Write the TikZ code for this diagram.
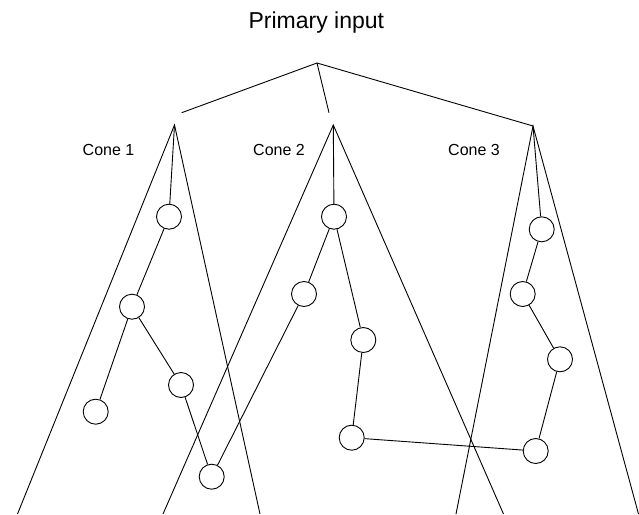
\documentclass[tikz,border=0pt]{standalone}
\usepackage{fontspec}
\setmainfont{Liberation Sans}
\begin{document}
\begin{tikzpicture}[x=1pt,y=-1pt,line width=0.9pt,
  gate/.style={circle,draw,minimum size=25pt,inner sep=0pt,fill=white},
  conelbl/.style={anchor=base,font=\fontsize{16}{19}\selectfont},
  titlelbl/.style={anchor=base,font=\fontsize{23}{27}\selectfont}]
\useasboundingbox (0,0) rectangle (639,514);
% title
\node[titlelbl] (title) at (316.3,28.3) {Primary input};
% top fan
\coordinate (top) at (317,63);
\coordinate (t1) at (181.7,112.7);
\coordinate (t2) at (329,112.7);
\coordinate (a1) at (174.5,125);
\coordinate (a2) at (333.3,125);
\coordinate (a3) at (533,126);
\draw (t1) -- (top) -- (a3);
\draw (top) -- (t2);
% cone bottoms
\coordinate (b1l) at (17.5,514);
\coordinate (b1r) at (260,514);
\coordinate (b2l) at (163,514);
\coordinate (b2r) at (503.5,514);
\coordinate (b3l) at (456,514);
\coordinate (b3r) at (638.5,514);
\draw (b1l) -- (a1) -- (b1r);
\draw (b2l) -- (a2) -- (b2r);
\draw (b3l) -- (a3) -- (b3r);
% labels
\node[conelbl] (l1) at (108.5,155) {Cone 1};
\node[conelbl] (l2) at (279,155) {Cone 2};
\node[conelbl] (l3) at (474,155) {Cone 3};
% gates
\node[gate] (c11) at (169,216.7) {};
\node[gate] (c12) at (132,306.7) {};
\node[gate] (c13) at (181,385) {};
\node[gate] (c14) at (95.7,411.7) {};
\node[gate] (c15) at (211.7,476.7) {};
\node[gate] (c21) at (334,216.7) {};
\node[gate] (c22) at (304,294) {};
\node[gate] (c23) at (363.3,340) {};
\node[gate] (c24) at (351.7,437.7) {};
\node[gate] (c31) at (541.7,229.3) {};
\node[gate] (c32) at (522.7,294) {};
\node[gate] (c33) at (560,359.3) {};
\node[gate] (c34) at (535.7,451) {};
% connections
\draw (a1) -- (c11);
\draw (c11) -- (c12);
\draw (c12) -- (c13);
\draw (c12) -- (c14);
\draw (c13) -- (c15);
\draw (c15) -- (c22);
\draw (a2) -- (c21);
\draw (c21) -- (c22);
\draw (c21) -- (c23);
\draw (c23) -- (c24);
\draw (c24) -- (c34);
\draw (c34) -- (c33);
\draw (c33) -- (c32);
\draw (c32) -- (c31);
\draw (c31) -- (a3);
\end{tikzpicture}
\end{document}
